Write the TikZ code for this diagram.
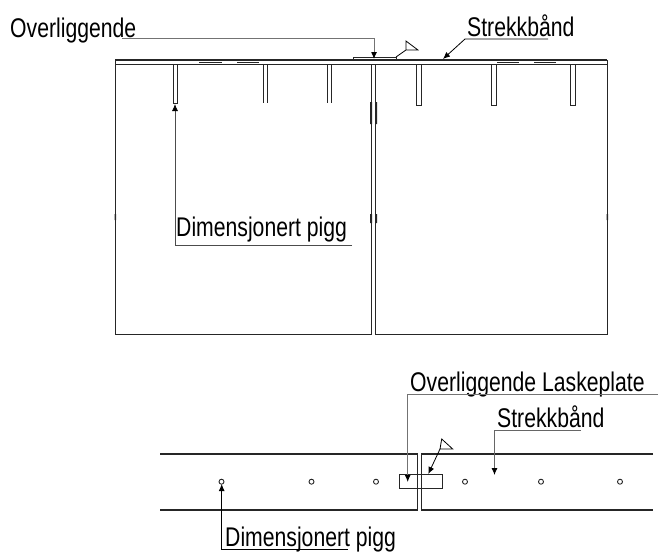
\documentclass[tikz,border=0pt]{standalone}
\usepackage{fontspec}
\usetikzlibrary{arrows.meta}
\setmainfont[FakeStretch=0.785]{Liberation Sans}
\begin{document}
\begin{tikzpicture}[x=1pt,y=-1pt,
  heavy/.style={draw=black!85,line width=1.1pt},
  thin line/.style={draw=black!85,line width=.9pt},
  grey lead/.style={draw=black!55,line width=1pt},
  lead/.style={draw=black,line width=.8pt},
  tiparrow/.style={-{Latex[length=7pt,width=6pt,color=black]}},
  hole/.style={circle,draw=black!85,line width=.9pt,minimum size=5pt,inner sep=0pt,fill=white},
  lab/.style={inner sep=0pt,anchor=base west,font=\fontsize{27}{30}\selectfont},
  blk/.style={fill=black!85,draw=none}]
\useasboundingbox (0,0) rectangle (659,555);
% Upper view: panels and band
\draw[heavy] (115,60) -- (607,60);
\draw[thin line] (115,64) -- (607,64);
\draw[thin line] (115,60) -- (115,334) -- (371,334) -- (371,64);
\draw[thin line] (375,64) -- (375,334) -- (607,334) -- (607,60);
% lap plate
\draw[thin line] (353,60) -- (353,57) -- (396,57) -- (396,60);
% small plates
\foreach \a/\b in {199/222,237/259,497/519,534/556}{\draw[thin line] (\a,62) -- (\b,62);}
% pins
\draw[thin line] (173,64) -- (173,103) -- (177.5,103) -- (177.5,64);
\draw[thin line] (263,64) -- (263,103) (267.5,64) -- (267.5,103);
\draw[thin line] (327,64) -- (327,103) (331.5,64) -- (331.5,103);
\draw[thin line] (416.5,64) -- (416.5,105) -- (421,105) -- (421,64);
\draw[thin line] (491.5,64) -- (491.5,105) -- (496,105) -- (496,64);
\draw[thin line] (570.5,64) -- (570.5,105) -- (575,105) -- (575,64);
% side marks
\fill[blk] (370,102) rectangle (372,124) (375,102) rectangle (377,124);
\fill[blk] (370,214) rectangle (372,223) (375,214) rectangle (377,223);
\fill[blk] (114.5,214) rectangle (116,220) (606.5,214) rectangle (608,220);
% Labels upper
\node[lab] (over) at (10,37) {Overliggende};
\node[lab] (strekk) at (467,36.7) {Strekkbånd};
\node[lab] (dim) at (176,236.5) {Dimensjonert pigg};
% leaders upper
\coordinate (overA) at (122,38.5);
\coordinate (overB) at (374,38.5);
\coordinate (overT) at (374,59);
\draw[grey lead,tiparrow] (overA) -- (overB) -- (overT);
\coordinate (strA) at (548,39);
\coordinate (strB) at (465,39);
\coordinate (strT) at (443,59);
\draw[lead,tiparrow] (strA) -- (strB) -- (strT);
\coordinate (dimA) at (352,245.7);
\coordinate (dimB) at (175,245.7);
\coordinate (dimT) at (175,104);
\draw[lead,draw=black!70,tiparrow] (dimA) -- (dimB) -- (dimT);
% weld upper
\coordinate (wA) at (396,57);
\coordinate (wB) at (406,50);
\coordinate (wC) at (406,41);
\coordinate (wD) at (418,50);
\draw[lead] (wA) -- (wB) -- (wD) -- (wC) -- (wB);
% Lower view
\draw[heavy,line width=1.3pt] (160,454) -- (417.7,454) -- (417.7,510) -- (160,510);
\draw[heavy,line width=1.3pt] (653,454) -- (421.7,454) -- (421.7,510) -- (653,510);
\draw[thin line] (399.3,474.3) rectangle (442,488.7);
\foreach \n/\x in {h1/221.5,h2/311.5,h3/376,h4/465,h5/541,h6/620}{\node[hole] (\n) at (\x,481.7) {};}
\node[lab] (over2) at (410,391.7) {Overliggende Laskeplate};
\node[lab] (strekk2) at (497,427.7) {Strekkbånd};
\node[lab] (dim2) at (225,546.7) {Dimensjonert pigg};
\coordinate (o2A) at (658,394);
\coordinate (o2B) at (407.7,394);
\coordinate (o2T) at (407.7,482);
\draw[grey lead,tiparrow] (o2A) -- (o2B) -- (o2T);
\coordinate (s2A) at (581,430.7);
\coordinate (s2B) at (494.5,430.7);
\coordinate (s2T) at (494.5,475);
\coordinate (d2A) at (348,549);
\coordinate (d2B) at (221.7,549);
\coordinate (d2T) at (221.7,484);
\draw[lead,tiparrow] (d2A) -- (d2B) -- (d2T);
\draw[lead,draw=black!60,tiparrow] (s2A) -- (s2B) -- (s2T);
\coordinate (w2A) at (428.3,474);
\coordinate (w2B) at (440,449);
\coordinate (w2C) at (441.7,439);
\coordinate (w2D) at (452.7,449);
\draw[lead,tiparrow] (w2B) -- (w2A);
\draw[lead] (w2B) -- (w2D) -- (w2C) -- (w2B);
\end{tikzpicture}
\end{document}
